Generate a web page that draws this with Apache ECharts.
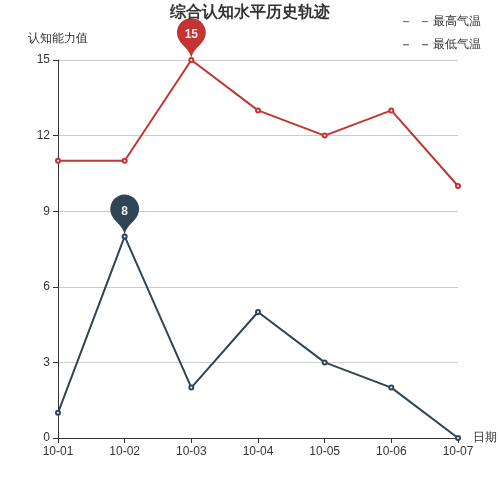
<!DOCTYPE html>
<html><head><meta charset="utf-8">
<script src="https://cdn.jsdelivr.net/npm/echarts@6/dist/echarts.min.js"></script>
<style>html,body{margin:0;padding:0;background:#fff}#main{width:500px;height:500px}</style>
</head><body><div id="main"></div>
<script>
const dates = ['10-01', '10-02', '10-03', '10-04', '10-05', '10-06', '10-07']
const highValues = [11, 11, 15, 13, 12, 13, 10]
const lowValues = [1, 8, 2, 5, 3, 2, 0]
const seriesNames = ['最高气温', '最低气温']

let myChart = echarts.init(document.getElementById('main'))
let option = {
    color: ['#c23531', '#2f4554'],
    title: { text: '综合认知水平历史轨迹', left: 'center', top: 0, textStyle: { fontSize: 16, fontWeight: 'bold', color: '#333' } },
    legend: {
        orient: 'vertical', right: 14, top: 10, itemGap: 10, data: seriesNames,
        textStyle: { fontSize: 12, color: '#333' },
        itemStyle: { borderWidth: 1, color: '#fff' }, lineStyle: { width: 1 }
    },
    grid: { left: 58, right: 42, top: 60, bottom: 62 },
    xAxis: {
        type: 'category', boundaryGap: false, data: dates, name: '日期',
        axisLine: { lineStyle: { color: '#333' } }, axisLabel: { color: '#333' },
        axisTick: { alignWithLabel: true }
    },
    yAxis: {
        type: 'value', name: '认知能力值', min: 0, max: 15, interval: 3,
        nameTextStyle: { color: '#333' },
        axisLine: { show: true, lineStyle: { color: '#333' } }, axisTick: { show: true },
        axisLabel: { color: '#333' }, splitLine: { lineStyle: { color: '#ccc' } }
    },
    series: [
        { name: seriesNames[0], type: 'line', data: highValues, symbol: 'emptyCircle', symbolSize: 4,
          lineStyle: { width: 2 },
          markPoint: { data: [{ type: 'max' }], symbolSize: 48, label: { fontWeight: 'bold', fontSize: 12 } } },
        { name: seriesNames[1], type: 'line', data: lowValues, symbol: 'emptyCircle', symbolSize: 4,
          lineStyle: { width: 2 },
          markPoint: { data: [{ type: 'max' }], symbolSize: 48, label: { fontWeight: 'bold', fontSize: 12 } } }
    ]
}
myChart.setOption(option)
</script></body></html>
